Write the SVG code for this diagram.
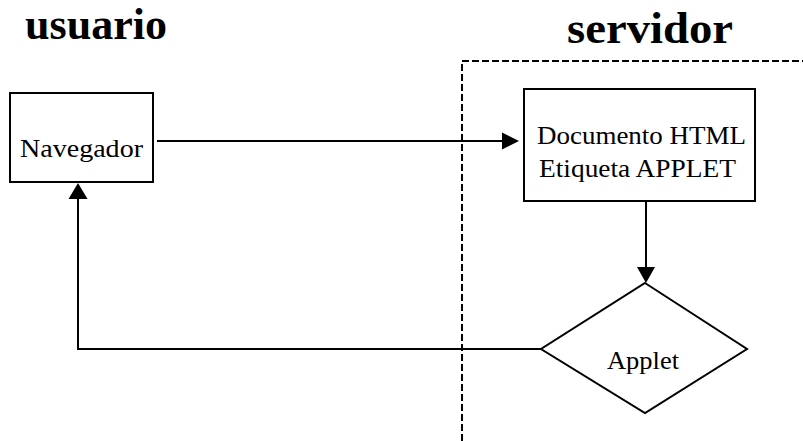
<svg xmlns="http://www.w3.org/2000/svg" width="803" height="441" viewBox="0 0 803 441">
  <style>
    .box { fill: #fff; stroke: #000; stroke-width: 2; }
    .edge { fill: none; stroke: #000; stroke-width: 2; }
    .zone { fill: none; stroke: #000; stroke-width: 2; stroke-dasharray: 7 3; }
    .head { fill: #000; }
    .label { font-family: "Liberation Serif", "Times New Roman", serif; font-size: 25px; fill: #000; }
    .title { font-family: "Liberation Serif", "Times New Roman", serif; font-size: 44px; font-weight: bold; fill: #000; }
  </style>

  <!-- side titles -->
  <text class="title" x="25" y="39" textLength="142" lengthAdjust="spacingAndGlyphs">usuario</text>
  <text class="title" x="567" y="43" textLength="166" lengthAdjust="spacingAndGlyphs">servidor</text>

  <!-- server zone boundary -->
  <path class="zone" d="M462,441 V61 H803"/>

  <!-- connectors -->
  <g id="connectors">
    <path class="edge" d="M157,141 H503"/>
    <polygon class="head" points="519,141 502,132.5 502,149.5"/>
    <path class="edge" d="M646,201 V268"/>
    <polygon class="head" points="646,283 637,267 655,267"/>
    <path class="edge" d="M541,349 H78 V198"/>
    <polygon class="head" points="78,183 68.5,199 87.5,199"/>
  </g>

  <g id="navegador">
    <rect class="box" x="10" y="93" width="143" height="89"/>
    <text class="label" x="20" y="157" textLength="123" lengthAdjust="spacingAndGlyphs">Navegador</text>
  </g>

  <g id="documento">
    <rect class="box" x="524" y="89" width="231" height="112"/>
    <text class="label" x="537" y="144" textLength="209" lengthAdjust="spacingAndGlyphs">Documento HTML</text>
    <text class="label" x="539" y="177" textLength="197" lengthAdjust="spacingAndGlyphs">Etiqueta APPLET</text>
  </g>

  <g id="applet">
    <polygon class="box" points="645,283 747,349 645,413 541,349"/>
    <text class="label" x="607" y="369" textLength="72" lengthAdjust="spacingAndGlyphs">Applet</text>
  </g>
</svg>
